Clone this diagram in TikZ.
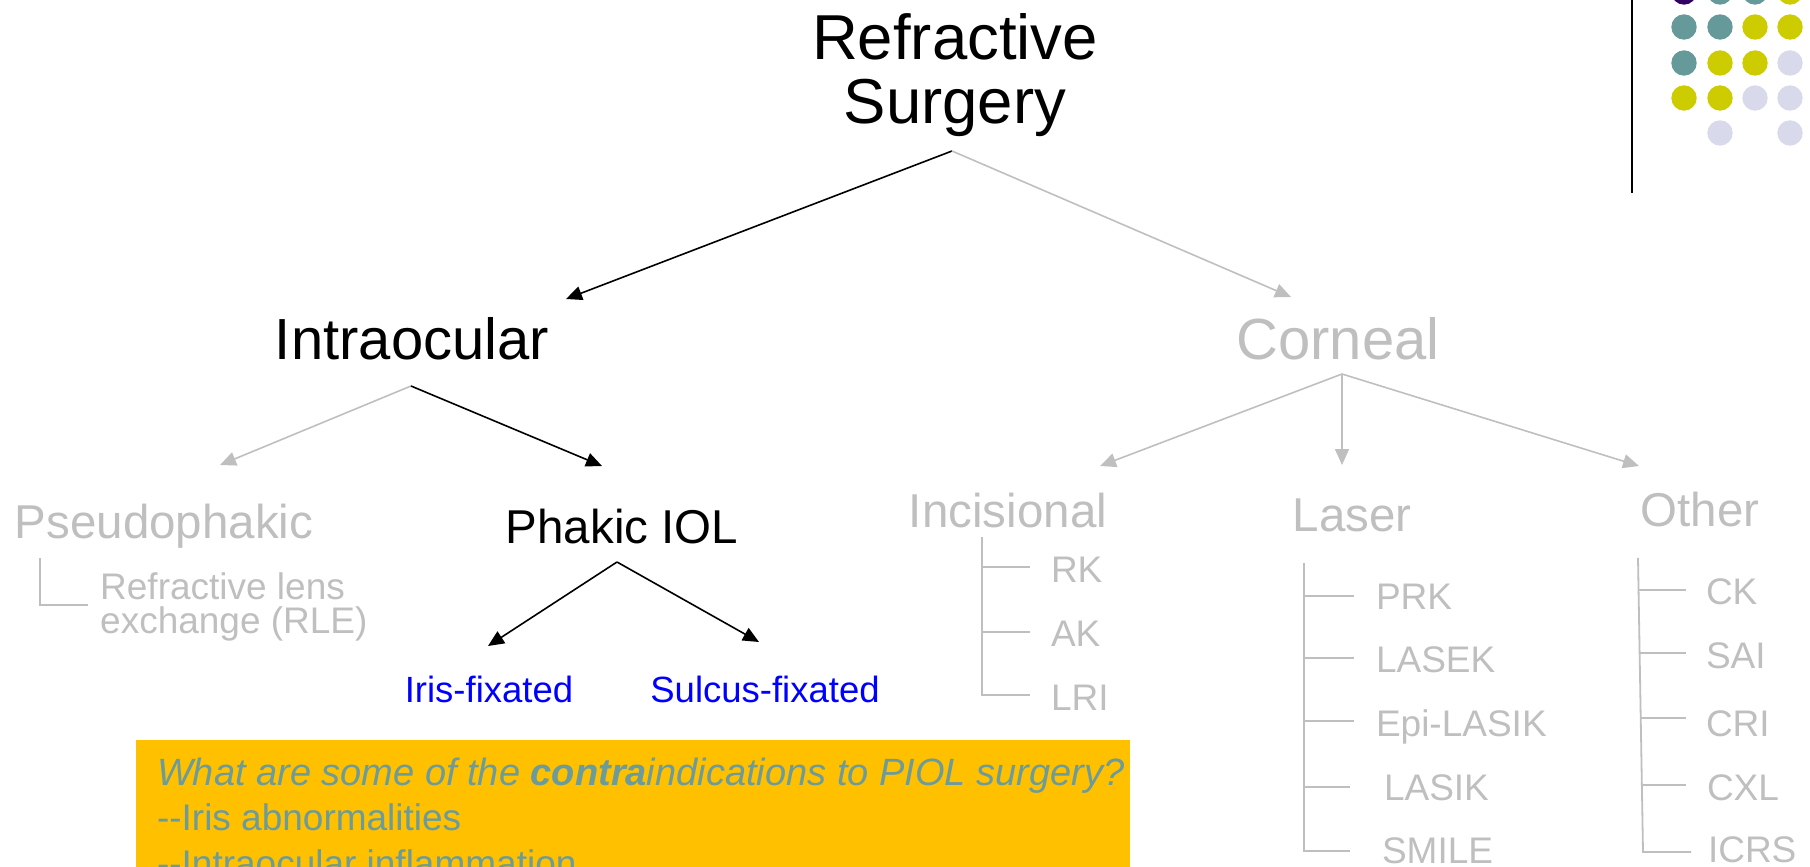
\documentclass[tikz,border=0pt]{standalone}
\usepackage{fontspec}
\setmainfont{Liberation Sans}
\newfontfamily\boxfont{Liberation Sans}[Ligatures=TeXOff]
\usetikzlibrary{arrows.meta}
\definecolor{lgray}{RGB}{191,191,191}
\definecolor{dotteal}{RGB}{102,153,153}
\definecolor{dotolive}{RGB}{204,204,0}
\definecolor{dotlav}{RGB}{217,217,236}
\definecolor{dotpurp}{RGB}{51,0,102}
\definecolor{boxorange}{RGB}{255,192,0}
\definecolor{boxtext}{RGB}{107,155,155}
\newcommand{\myfs}[2]{\fontsize{#1}{#2}\selectfont}
\begin{document}
\begin{tikzpicture}[x=1pt,y=-1pt,
  lbl/.style={inner sep=0pt, outer sep=0pt, anchor=base},
  lblw/.style={inner sep=0pt, outer sep=0pt, anchor=base west},
  blk/.style={draw=black, line width=1.6pt, -{Triangle[length=16pt,width=14pt]}},
  gry/.style={draw=lgray, line width=1.6pt, -{Triangle[length=16pt,width=14pt]}},
  brk/.style={draw=lgray, line width=1.8pt},
  big/.style={font=\myfs{63.5}{64}},
  mid/.style={font=\myfs{58}{58}},
  sub/.style={font=\myfs{47.5}{47.5}},
  small/.style={font=\myfs{37}{37}, text=lgray},
  fix/.style={font=\myfs{36.5}{36.5}, text=blue}]
\clip (0,0) rectangle (1810,867);
% title
\node[inner sep=0pt, anchor=north, align=center, big] (rs) at (955,13) {Refractive\\Surgery};
\coordinate (f1) at (952,151);
\coordinate (tintra) at (566,299);
\coordinate (tcorn) at (1291,297);
% level 2
\node[lbl, mid] (intra) at (412,359) {Intraocular};
\node[lbl, mid, text=lgray] (corn) at (1338,359) {Corneal};
\draw[blk] (f1) -- (tintra);
\draw[gry] (f1) -- (tcorn);
% level 3 left
\node[lbl, sub, text=lgray] (pseudo) at (164,538) {Pseudophakic};
\node[lbl, sub] (phakic) at (622,543) {Phakic IOL};
\coordinate (f2) at (411,386);
\coordinate (tpseudo) at (220,465);
\coordinate (tphakic) at (602,466);
\draw[gry] (f2) -- (tpseudo);
\draw[blk] (f2) -- (tphakic);
% level 3 right
\node[lbl, sub, text=lgray] (incis) at (1008,527) {Incisional};
\node[lbl, sub, text=lgray] (laser) at (1352,531) {Laser};
\node[lbl, sub, text=lgray] (other) at (1700,526) {Other};
\coordinate (f3) at (1342,374);
\coordinate (tincis) at (1100,466);
\coordinate (tlaser) at (1342,465);
\coordinate (tother) at (1639,466);
\draw[gry] (f3) -- (tincis);
\draw[gry] (f3) -- (tlaser);
\draw[gry] (f3) -- (tother);
% phakic children
\coordinate (f4) at (617,562);
\coordinate (tiris) at (488,646);
\coordinate (tsulc) at (759,642);
\draw[blk] (f4) -- (tiris);
\draw[blk] (f4) -- (tsulc);
\node[lbl, fix] (iris) at (489,702) {Iris-fixated};
\node[lbl, fix] (sulc) at (765,702) {Sulcus-fixated};
% RLE
\draw[brk] (40,558) -- (40,605) -- (88,605);
\node[inner sep=0pt, anchor=north west, align=left, font=\myfs{37}{34}, text=lgray] (rle) at (100,572) {Refractive lens\\exchange (RLE)};
% incisional list
\draw[brk] (982,537) -- (982,695) -- (1030,695);
\draw[brk] (982,567) -- (1030,567);
\draw[brk] (982,632) -- (1030,632);
\node[lblw, small] (rk) at (1051,582) {RK};
\node[lblw, small] (ak) at (1051,646) {AK};
\node[lblw, small] (lri) at (1051,710) {LRI};
% laser list
\draw[brk] (1304,563) -- (1304,851) -- (1350,851);
\draw[brk] (1304,596) -- (1354,596);
\draw[brk] (1304,658) -- (1354,658);
\draw[brk] (1304,721) -- (1354,721);
\draw[brk] (1304,787) -- (1350,787);
\node[lblw, small] (prk) at (1376,609) {PRK};
\node[lblw, small] (lasek) at (1376,672) {LASEK};
\node[lblw, small] (epi) at (1376,736) {Epi-LASIK};
\node[lblw, small] (lasik) at (1384,800) {LASIK};
\node[lblw, small] (smile) at (1382,863) {SMILE};
% other list
\draw[brk] (1638,558) -- (1643,852) -- (1691,852);
\draw[brk] (1638,590) -- (1686,590);
\draw[brk] (1639,653) -- (1686,653);
\draw[brk] (1640,718) -- (1686,718);
\draw[brk] (1641,785) -- (1686,785);
\node[lblw, small] (ck) at (1706,604) {CK};
\node[lblw, small] (sai) at (1706,668) {SAI};
\node[lblw, small] (cri) at (1706,736) {CRI};
\node[lblw, small] (cxl) at (1707,800) {CXL};
\node[lblw, small] (icrs) at (1708,862) {ICRS};
% question box
\fill[boxorange] (136,740) rectangle (1130,900);
\node[lblw, font=\boxfont\myfs{38}{38}, text=boxtext] (q1) at (157,785) {\itshape What are some of the \textbf{contra}indications to PIOL surgery?};
\node[lblw, font=\boxfont\myfs{37}{37}, text=boxtext] (q2) at (157,830) {--Iris abnormalities};
\node[lblw, font=\boxfont\myfs{37}{37}, text=boxtext] (q3) at (157,876) {--Intraocular inflammation};
% decoration
\draw[black, line width=2.5pt] (1632,0) -- (1632,193);
\foreach \x/\y/\c in {1684/-8/dotpurp, 1720/-8/dotteal, 1755/-8/dotteal, 1790/-8/dotolive,
  1684/27/dotteal, 1720/27/dotteal, 1755/27/dotolive, 1790/27/dotolive,
  1684/63/dotteal, 1720/63/dotolive, 1755/63/dotolive, 1790/63/dotlav,
  1684/98/dotolive, 1720/98/dotolive, 1755/98/dotlav, 1790/98/dotlav,
  1720/133/dotlav, 1790/133/dotlav}
  \fill[\c] (\x,\y) circle (12.7pt);
\end{tikzpicture}
\end{document}
